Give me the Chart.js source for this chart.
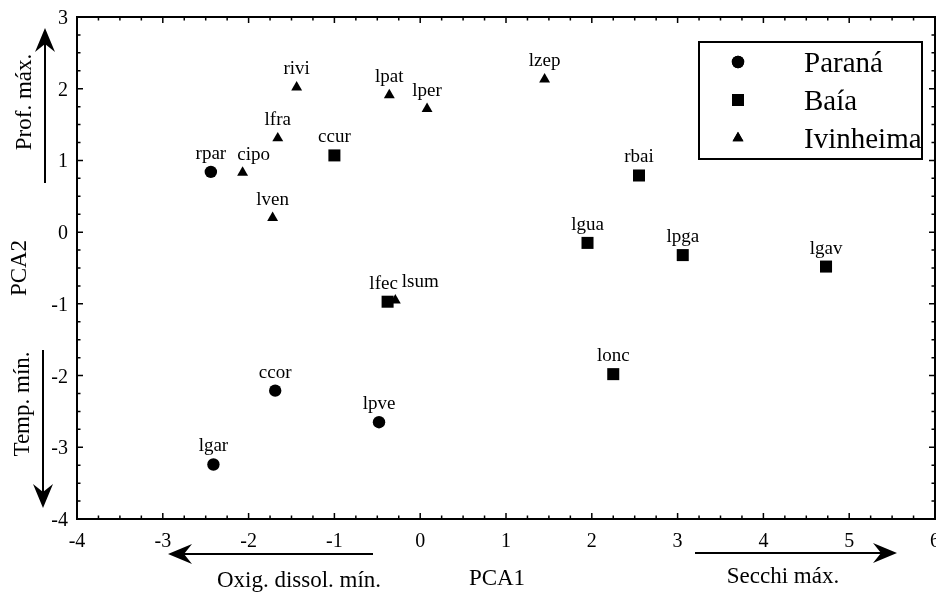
<!DOCTYPE html>
<html lang="pt">
<head>
    <meta charset="UTF-8">
    <title>PCA</title>
    <style>
        html, body { margin: 0; padding: 0; background: #fff; overflow: hidden; }
        canvas { display: block; }
    </style>
</head>
<body>
    <canvas id="myChart" width="936" height="593"></canvas>

    <script src="https://cdn.jsdelivr.net/npm/chart.js"></script>

    <script>
        // dados
        let paranaNames = ['rpar', 'ccor', 'lgar', 'lpve'];
        let paranaX = [-2.44, -1.69, -2.41, -0.48];
        let paranaY = [0.84, -2.21, -3.24, -2.65];

        let baiaNames = ['ccur', 'rbai', 'lgua', 'lpga', 'lgav', 'lfec', 'lonc'];
        let baiaX = [-1.00, 2.55, 1.95, 3.06, 4.73, -0.38, 2.25];
        let baiaY = [1.07, 0.79, -0.15, -0.32, -0.48, -0.97, -1.98];

        let ivinNames = ['rivi', 'lfra', 'cipo', 'lven', 'lpat', 'lper', 'lzep', 'lsum'];
        let ivinX = [-1.44, -1.66, -2.07, -1.72, -0.36, 0.08, 1.45, -0.29];
        let ivinY = [2.02, 1.31, 0.83, 0.20, 1.91, 1.72, 2.13, -0.95];

        let xTicks = [-4, -3, -2, -1, 0, 1, 2, 3, 4, 5, 6];
        let yTicks = [-4, -3, -2, -1, 0, 1, 2, 3];

        const serif = "'Liberation Serif', 'Times New Roman', serif";

        function toPoints(xs, ys, names) {
            return xs.map((x, i) => ({ x: x, y: ys[i], name: names[i] }));
        }

        function arrow(ctx, x1, y1, x2, y2) {
            let a = Math.atan2(y2 - y1, x2 - x1);
            let len = 24, half = 10, notch = 8;
            ctx.save();
            ctx.lineWidth = 2;
            ctx.beginPath();
            ctx.moveTo(x1, y1);
            ctx.lineTo(x2 - Math.cos(a) * 12, y2 - Math.sin(a) * 12);
            ctx.stroke();
            ctx.translate(x2, y2);
            ctx.rotate(a);
            ctx.beginPath();
            ctx.moveTo(0, 0);
            ctx.lineTo(-len, -half);
            ctx.lineTo(-len + notch, 0);
            ctx.lineTo(-len, half);
            ctx.closePath();
            ctx.fill();
            ctx.restore();
        }

        function vText(ctx, text, x, y) {
            ctx.save();
            ctx.translate(x, y);
            ctx.rotate(-Math.PI / 2);
            ctx.textAlign = 'center';
            ctx.textBaseline = 'alphabetic';
            ctx.fillText(text, 0, 0);
            ctx.restore();
        }

        // eixos, rótulos, legenda e setas
        const decor = {
            id: 'decor',
            afterDraw(chart) {
                const ctx = chart.ctx;
                const area = chart.chartArea;
                const xs = chart.scales.x, ys = chart.scales.y;
                ctx.save();
                ctx.fillStyle = '#000';
                ctx.strokeStyle = '#000';

                // moldura
                ctx.lineWidth = 2;
                ctx.strokeRect(area.left, area.top, area.right - area.left, area.bottom - area.top);

                // marcas
                ctx.lineWidth = 1.5;
                for (let v = xTicks[0]; v <= xTicks[xTicks.length - 1] + 1e-9; v += 0.25) {
                    let px = xs.getPixelForValue(v);
                    let l = Math.abs(v - Math.round(v)) < 1e-6 ? 6 : 3.5;
                    ctx.beginPath();
                    ctx.moveTo(px, area.bottom); ctx.lineTo(px, area.bottom - l);
                    ctx.moveTo(px, area.top); ctx.lineTo(px, area.top + l);
                    ctx.stroke();
                }
                for (let v = yTicks[0]; v <= yTicks[yTicks.length - 1] + 1e-9; v += 0.25) {
                    let py = ys.getPixelForValue(v);
                    let l = Math.abs(v - Math.round(v)) < 1e-6 ? 6 : 3.5;
                    ctx.beginPath();
                    ctx.moveTo(area.left, py); ctx.lineTo(area.left + l, py);
                    ctx.moveTo(area.right, py); ctx.lineTo(area.right - l, py);
                    ctx.stroke();
                }

                // rótulos dos eixos
                ctx.font = '20px ' + serif;
                ctx.textAlign = 'center';
                ctx.textBaseline = 'alphabetic';
                xTicks.forEach(v => ctx.fillText(String(v), xs.getPixelForValue(v), area.bottom + 28));
                ctx.textAlign = 'right';
                yTicks.forEach(v => ctx.fillText(String(v), area.left - 9, ys.getPixelForValue(v) + 7));

                // nomes dos pontos (alguns deslocados para não se sobreporem)
                const shift = { lsum: 25, cipo: 11, lfec: -4 };
                ctx.font = '19px ' + serif;
                ctx.textAlign = 'center';
                chart.data.datasets.forEach((ds, di) => {
                    const meta = chart.getDatasetMeta(di);
                    meta.data.forEach((el, i) => {
                        const name = ds.data[i].name;
                        ctx.fillText(name, el.x + (shift[name] || 0), el.y - 13);
                    });
                });

                // legenda
                ctx.lineWidth = 2;
                ctx.strokeRect(699, 42, 223, 117);
                ctx.font = '29px ' + serif;
                ctx.textAlign = 'left';
                chart.data.datasets.forEach((ds, di) => {
                    let cy = 62 + di * 38;
                    Chart.helpers.drawPoint(ctx, {
                        pointStyle: ds.pointStyle,
                        radius: ds.pointRadius,
                        borderWidth: 0
                    }, 738, cy);
                    ctx.fill();
                    ctx.fillText(ds.label, 804, cy + 10);
                });

                // títulos e setas
                ctx.font = '23px ' + serif;
                ctx.textAlign = 'center';
                ctx.fillText('PCA1', 497, 585);
                ctx.fillText('Oxig. dissol. mín.', 299, 587);
                ctx.fillText('Secchi máx.', 783, 583);
                vText(ctx, 'PCA2', 26, 268);
                vText(ctx, 'Prof. máx.', 31, 102);
                vText(ctx, 'Temp. mín.', 29, 404);

                arrow(ctx, 45, 183, 45, 28);
                arrow(ctx, 43, 350, 43, 508);
                arrow(ctx, 373, 554, 168, 554);
                arrow(ctx, 695, 553, 897, 553);

                ctx.restore();
            }
        };

        const ctx = document.getElementById('myChart');

        let chart = new Chart(ctx, {
            type: 'scatter',
            data: {
                datasets: [
                    {
                        label: 'Paraná',
                        data: toPoints(paranaX, paranaY, paranaNames),
                        pointStyle: 'circle',
                        pointRadius: 6.2,
                        backgroundColor: '#000',
                        borderWidth: 0
                    },
                    {
                        label: 'Baía',
                        data: toPoints(baiaX, baiaY, baiaNames),
                        pointStyle: 'rect',
                        pointRadius: 8.5,
                        backgroundColor: '#000',
                        borderWidth: 0
                    },
                    {
                        label: 'Ivinheima',
                        data: toPoints(ivinX, ivinY, ivinNames),
                        pointStyle: 'triangle',
                        pointRadius: 6.3,
                        backgroundColor: '#000',
                        borderWidth: 0
                    }
                ]
            },
            options: {
                responsive: false,
                animation: false,
                layout: {
                    autoPadding: false,
                    padding: { left: 77, right: 1, top: 17, bottom: 74 }
                },
                scales: {
                    x: { type: 'linear', min: -4, max: 6, display: false },
                    y: { type: 'linear', min: -4, max: 3, display: false }
                },
                plugins: {
                    legend: { display: false },
                    tooltip: { enabled: false }
                }
            },
            plugins: [decor]
        });
    </script>
</body>
</html>
